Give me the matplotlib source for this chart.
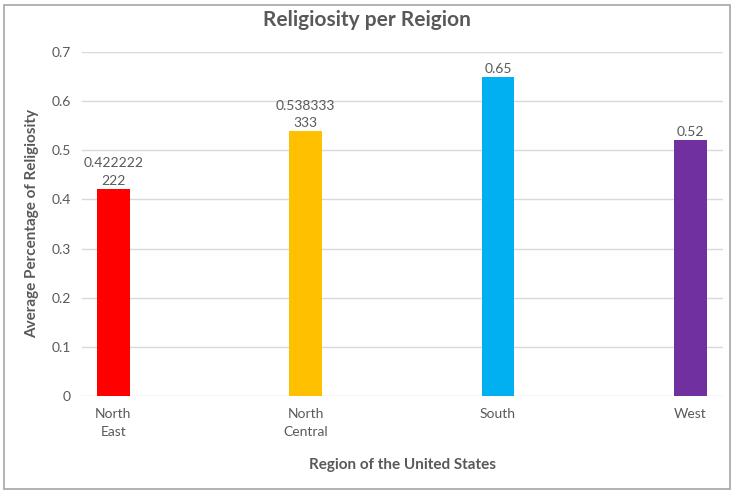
import matplotlib
matplotlib.use('Agg')
import matplotlib.pyplot as plt
from matplotlib.patches import Rectangle

regions = ['North\nEast', 'North\nCentral', 'South', 'West']
values = [0.422222222, 0.538333333, 0.65, 0.52]
value_labels = ['0.422222\n222', '0.538333\n333', '0.65', '0.52']
colors = ['#FF0000', '#FFC000', '#00B0F0', '#7030A0']
y_ticks = [0, 0.1, 0.2, 0.3, 0.4, 0.5, 0.6, 0.7]

plt.rcParams['font.family'] = ['Lato', 'DejaVu Sans']
text_color = '#595959'

fig = plt.figure(figsize=(7.33, 4.91), dpi=100)
ax = fig.add_axes([82 / 733, 1 - 396 / 491, (723 - 82) / 733, (396 - 52) / 491])

x = list(range(len(regions)))
ax.bar(x, values, width=0.171, color=colors, zorder=3)
for xi, v, lab in zip(x, values, value_labels):
    ax.text(xi, v + 0.004, lab, ha='center', va='bottom', fontsize=10,
            color=text_color, linespacing=1.55)

ax.set_xlim(-0.163, 3.17)
ax.set_ylim(0, 0.7)
ax.set_yticks(y_ticks)
ax.set_yticklabels(['0' if t == 0 else f'{t:g}' for t in y_ticks])
ax.set_xticks(x)
ax.set_xticklabels(regions, linespacing=1.6)
ax.tick_params(axis='both', length=0, labelsize=10, colors=text_color)
ax.tick_params(axis='y', pad=8)
ax.tick_params(axis='x', pad=9)
ax.grid(axis='y', color='#D9D9D9', linewidth=1, zorder=0)
for s in ax.spines.values():
    s.set_visible(False)

ax.set_ylabel('Average Percentage of Religiosity', fontsize=11, fontweight='bold',
              color=text_color, labelpad=9)
ax.set_xlabel('Region of the United States', fontsize=11, fontweight='bold',
              color=text_color, labelpad=14)
fig.text(0.5, 1 - 20 / 491, 'Religiosity per Reigion', ha='center', va='center',
         fontsize=15, fontweight='bold', color=text_color)

fig.patches.append(Rectangle((4 / 733, 2 / 491), 726 / 733, 484 / 491,
                             transform=fig.transFigure, fill=False,
                             edgecolor='#A6A6A6', linewidth=1.2))

fig.savefig('out.png', dpi=100)
